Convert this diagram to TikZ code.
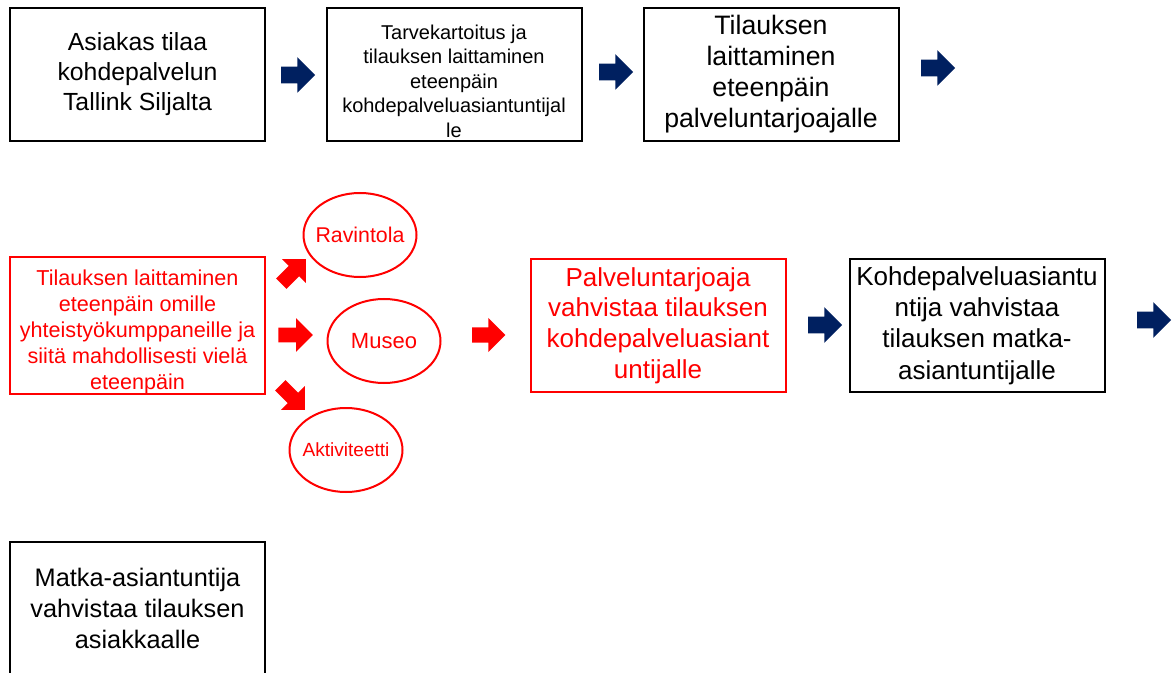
\documentclass[tikz,border=0pt]{standalone}
\usepackage{fontspec}
\setmainfont{Liberation Sans}
\usetikzlibrary{shapes.geometric,shapes.arrows}
\definecolor{navyarrow}{HTML}{002060}
\tikzset{
  stepbox/.style={draw=black,line width=1.5pt,rectangle,minimum width=191.25pt,minimum height=99.75pt,align=center,inner sep=0pt},
  redbox/.style={stepbox,draw=red,text=red},
  partner/.style={draw=red,text=red,line width=1.5pt,ellipse,minimum width=84.75pt,minimum height=63pt,inner sep=0pt},
  bluearrow/.style={single arrow,fill=navyarrow,draw=none,inner sep=0pt,text height=12pt,text depth=0pt,minimum width=20.25pt,minimum height=25.5pt},
  redarrow/.style={single arrow,fill=red,draw=none,inner sep=0pt,text height=10.5pt,text depth=0pt,minimum width=22pt,minimum height=26pt}
}
\newcommand{\fs}[2]{\fontsize{#1}{#2}\selectfont}
\newcommand{\inoval}[1]{\makebox[50pt]{#1}}
\begin{document}
\begin{tikzpicture}[x=0.75pt,y=-0.75pt]
  \clip (0,0) rectangle (1176,673);
  \fill[white] (0,0) rectangle (1176,673);
  % first row
  \node[stepbox,font=\fs{18.6}{22.5}] (asiakas) at (137.5,74.5) {Asiakas tilaa\\kohdepalvelun\\Tallink Siljalta};
  \node[stepbox,font=\fs{15}{18.4}] (tarve) at (454,74.5) {\rule{0pt}{21pt}Tarvekartoitus ja\\tilauksen laittaminen\\eteenpäin\\kohdepalveluasiantuntijal\\le};
  \node[stepbox,font=\fs{20}{23.3}] (tilaus) at (771,74.5) {Tilauksen\\laittaminen\\eteenpäin\\palveluntarjoajalle};
  \node[bluearrow] (nuoli1) at (294,75) {};
  \node[bluearrow] (nuoli2) at (612,72) {};
  \node[bluearrow] (nuoli3) at (934,68) {};
  % second row
  \node[redbox,font=\fs{16.2}{19.5}] (yhteistyo) at (137.5,325.5) {\rule{0pt}{22pt}Tilauksen laittaminen\\eteenpäin omille\\yhteistyökumppaneille ja\\siitä mahdollisesti vielä\\eteenpäin};
  \node[partner,font=\fs{16}{19}] (ravintola) at (360,235) {\inoval{Ravintola}};
  \node[partner,font=\fs{16.5}{19}] (museo) at (384,341) {\inoval{Museo}};
  \node[partner,font=\fs{14.3}{17}] (aktiviteetti) at (346,450) {\inoval{Aktiviteetti}};
  \node[redarrow,rotate=45] (punainen1) at (291,274) {};
  \node[redarrow] (punainen2) at (292,335) {};
  \node[redarrow,rotate=-45] (punainen3) at (290,395) {};
  \node[redarrow,minimum width=20.25pt,text height=11pt,minimum height=25pt] (punainen4) at (485,335) {};
  \node[redbox,font=\fs{19.5}{23}] (vahvistus) at (658,325.5) {Palveluntarjoaja\\vahvistaa tilauksen\\kohdepalveluasiant\\untijalle};
  \node[bluearrow] (nuoli4) at (821,325) {};
  \node[stepbox,font=\fs{19.5}{23.5}] (kohde) at (977,325.5) {Kohdepalveluasiantu\\ntija vahvistaa\\tilauksen matka-\\asiantuntijalle};
  \node[bluearrow] (nuoli5) at (1150,320) {};
  % third row
  \node[stepbox,font=\fs{19}{23}] (matka) at (137.5,608.5) {Matka-asiantuntija\\vahvistaa tilauksen\\asiakkaalle};
\end{tikzpicture}
\end{document}
